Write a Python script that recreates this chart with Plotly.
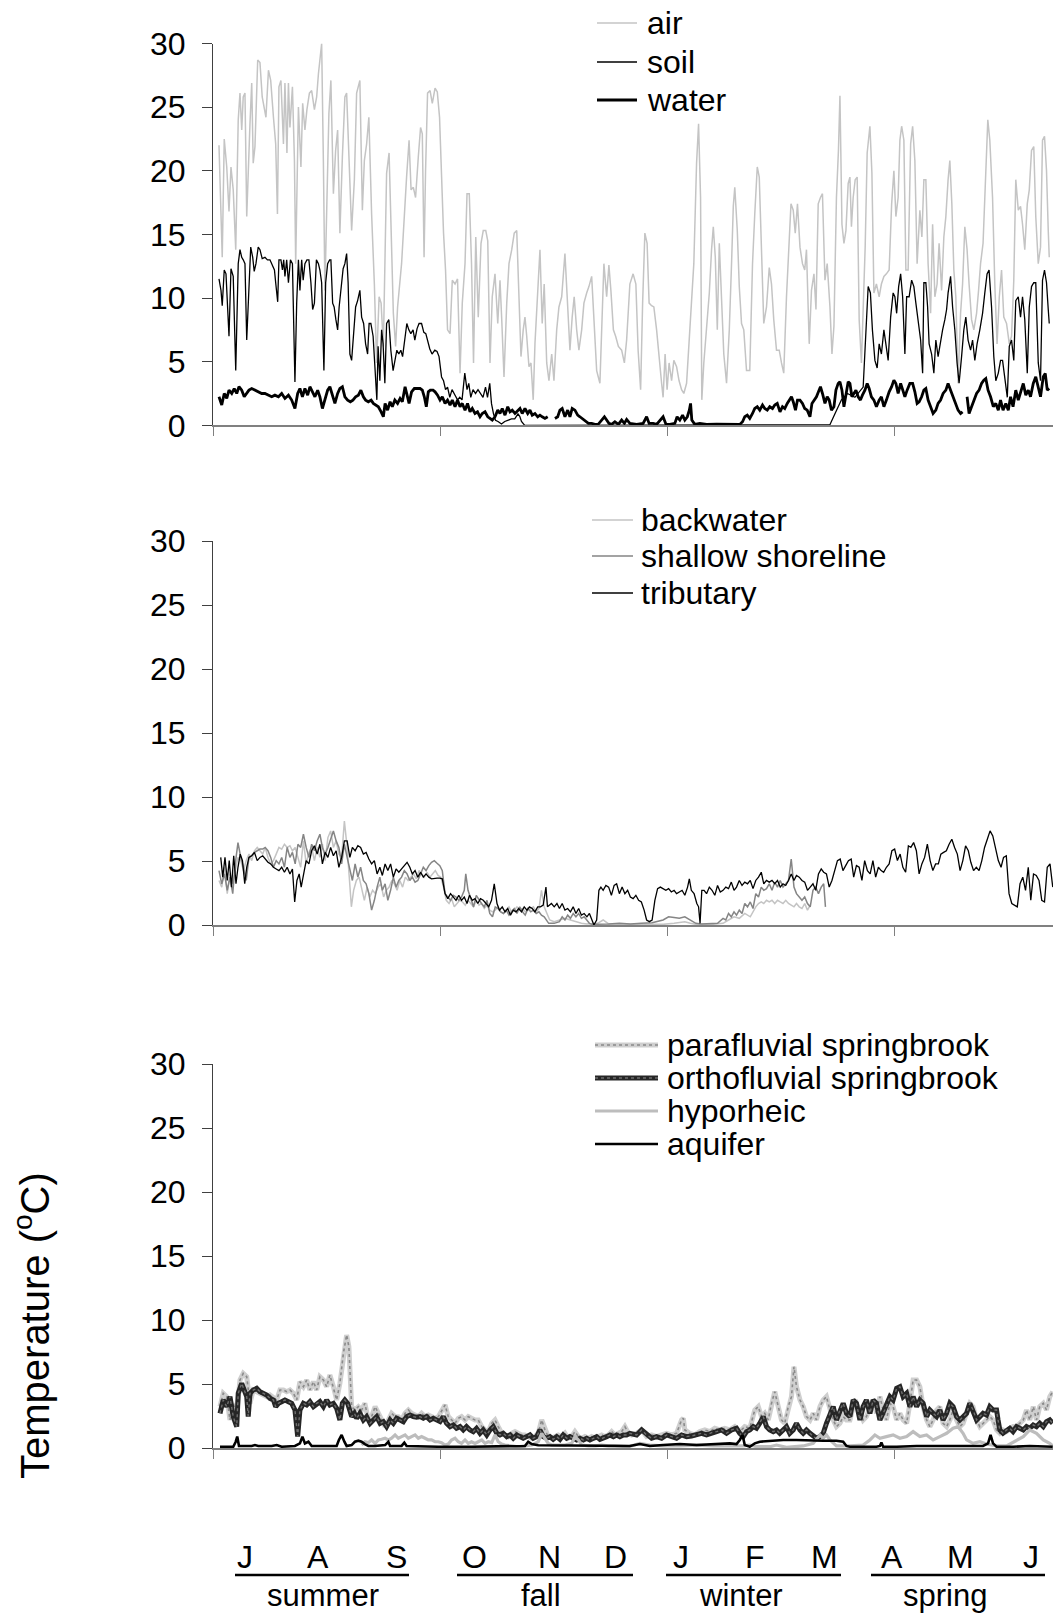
import plotly.graph_objects as go

W, H = 1059, 1615
FONT = "Liberation Sans, Arial, Helvetica, sans-serif"

# ---------------- data (day index from 1 July, temperature in deg C) ----------------
air_day = [2.4, 3.7, 4.5, 5.5, 6.4, 7.2, 8.1, 9.1, 10.1, 10.8, 11.5, 12.1, 12.8, 13.5, 14.8, 15.5, 16.1, 16.8,
           17.9, 18.8, 19.7, 20.5, 21.2, 22.2, 23.1, 24.2, 25.1, 25.8, 26.4, 27.2, 28.2, 28.8, 29.6, 30.2, 30.8,
           31.8, 32.6, 33.1, 34.2, 35.2, 35.9, 36.8, 37.6, 38.6, 39.5, 40.6, 41.5, 42.2, 42.8, 43.5, 44.2, 44.8,
           46.4, 47.2, 48.2, 49.1, 49.9, 50.8, 51.8, 52.8, 53.5, 54.4, 55.5, 56.6, 57.5, 58.8, 59.8, 60.6, 61.5,
           62.4, 63.5, 64.6, 65.5, 66.5, 67.3, 68.2, 69.5, 70.5, 71.3, 72.2, 73.1, 73.9, 75.5, 76.9, 77.5, 78.5,
           79.3, 80.2, 81.1, 82.2, 83.1, 83.8, 84.5, 85.1, 85.9, 86.9, 87.8, 88.9, 89.8, 90.7, 91.8, 92.3, 93.1,
           93.9, 94.9, 95.8, 96.9, 97.9, 98.9, 99.8, 100.9, 101.7, 102.6, 103.5, 104.3, 105.2, 106.2, 107.3,
           108.2, 109.2, 110.0, 110.9, 111.8, 112.9, 114.0, 114.9, 115.6, 116.5, 117.6, 118.5, 119.6, 120.6,
           121.6, 122.4, 123.3, 124.2, 124.9, 125.6, 126.5, 127.3, 128.2, 128.9, 130.0, 130.9, 131.8, 132.6,
           133.6, 134.5, 135.6, 136.5, 137.6, 138.5, 139.6, 140.9, 141.8, 142.9, 143.8, 144.6, 145.6, 146.5,
           147.6, 148.5, 149.6, 150.5, 151.6, 152.7, 153.6, 154.9, 155.6, 156.5, 157.6, 158.5, 159.3, 160.3,
           161.2, 162.3, 163.6, 164.7, 165.6,
           166.9, 168.2, 169.3, 170.2, 171.2, 172.0, 172.9, 173.8, 174.6, 175.6, 176.5, 177.6, 178.6, 179.6,
           180.2, 181.0, 181.8, 182.6, 183.6, 184.5, 185.6, 186.6, 187.6, 188.5, 189.6, 190.7, 191.6, 192.5,
           193.6, 194.4, 195.2, 195.7, 196.5, 197.6, 198.7, 199.6, 200.3, 201.1, 201.9, 202.7, 203.6, 204.5,
           205.6, 206.7, 207.6, 208.3, 208.9, 209.9, 210.7, 211.6, 212.5, 213.6, 214.9, 216.0, 216.9, 217.9,
           218.7, 219.6, 220.5, 221.6, 222.7, 223.6, 224.5, 225.6, 226.7, 227.6, 228.5, 229.6, 230.7, 231.4,
           232.3, 233.1, 234.0, 235.0, 236.0, 236.9, 237.6, 238.7, 239.6, 240.6, 241.4, 242.3, 243.2, 244.0,
           245.0, 245.9, 247.0, 247.8, 248.6, 249.6, 250.4, 251.0, 251.8, 252.6, 253.4, 254.3, 255.0, 255.6,
           256.3, 257.1, 257.9, 258.7, 259.6, 260.3, 261.1, 261.9, 263.0, 263.8, 264.6, 265.6, 266.7, 267.6,
           268.6, 269.6, 270.7, 271.7, 272.6, 273.4, 274.3, 275.0, 275.7, 276.6, 277.4, 278.3, 279.3, 280.1,
           281.0, 281.9, 283.0, 283.8, 284.6, 285.4, 286.3, 287.3, 288.1, 289.0, 289.9, 290.7, 291.7, 292.6,
           293.4, 294.3, 295.0, 295.8, 296.6, 297.4, 298.3, 299.3, 300.1, 301.0, 301.9, 302.7, 303.7, 304.6,
           305.7, 306.5, 307.3, 308.3, 309.4, 310.2, 311.0, 312.1, 313.0, 313.9, 314.8, 315.7, 316.6, 317.7,
           318.8, 319.7, 320.6, 321.4, 322.4, 323.3, 324.1, 325.0, 326.0, 326.8, 327.7, 328.6, 329.4, 330.4,
           331.3, 332.1, 332.9, 333.7, 334.4, 334.8]
air_val = [22.0, 13.2, 22.5, 20.3, 16.8, 20.3, 18.5, 13.8, 24.0, 26.1, 23.2, 25.8, 26.1, 16.4, 23.7, 26.9, 20.6, 21.9,
           28.7, 28.5, 25.8, 24.8, 24.2, 27.9, 27.1, 24.2, 22.1, 16.6, 26.6, 27.1, 22.1, 26.9, 21.4, 26.9, 23.4,
           26.6, 20.8, 12.7, 25.0, 20.3, 25.3, 23.2, 24.8, 26.1, 26.3, 24.8, 25.8, 27.6, 28.9, 30.0, 20.6, 10.6,
           24.5, 27.1, 18.2, 21.6, 23.2, 15.1, 21.1, 25.8, 26.1, 21.1, 15.3, 19.3, 26.1, 27.1, 16.9, 20.8, 22.1,
           24.2, 16.6, 11.1, 4.9, 10.1, 9.6, 6.2, 19.8, 21.4, 15.3, 8.8, 6.2, 9.3, 12.7, 17.9, 19.5, 22.4,
           18.5, 18.7, 17.9, 21.1, 23.4, 22.9, 13.2, 20.0, 26.1, 26.3, 25.3, 26.5, 26.2, 24.2, 17.9, 15.1, 12.2,
           7.5, 7.2, 11.4, 11.1, 11.5, 4.1, 9.6, 12.7, 18.2, 18.2, 12.7, 4.9, 14.8, 8.5, 14.3,
           15.3, 15.3, 14.5, 4.9, 10.1, 11.9, 8.0, 11.4, 8.3, 3.8, 9.6, 12.7, 13.8, 15.1,
           15.3, 11.1, 5.4, 7.5, 8.5, 7.0, 4.6, 4.9, 2.0, 6.4, 10.1, 13.8, 8.0, 11.1,
           4.9, 3.5, 5.6, 3.5, 7.5, 9.3, 10.1, 13.5, 10.1, 5.9, 8.5, 10.1, 7.5, 5.9,
           7.5, 9.6, 10.4, 10.9, 11.7, 7.5, 4.3, 3.3, 7.5, 12.7, 10.1, 12.6, 10.6, 7.5,
           7.0, 6.2, 5.9, 4.9, 6.7,
           11.1, 11.9, 11.1, 5.9, 2.8, 9.6, 15.1, 14.3, 9.6, 9.4, 9.3, 7.5, 5.1, 3.3,
           2.2, 5.6, 2.8, 4.9, 3.5, 5.1, 4.6, 3.5, 2.8, 2.5, 3.3, 7.0, 9.6, 12.7,
           20.6, 23.7, 17.9, 2.0, 4.9, 8.0, 10.4, 13.8, 15.6, 13.2, 7.5, 14.3, 9.6, 5.6,
           3.3, 7.5, 12.7, 17.2, 18.7, 15.3, 10.9, 8.0, 7.5, 4.3, 4.3, 12.7, 16.6, 20.3,
           19.5, 12.7, 8.0, 9.3, 12.4, 11.1, 8.3, 5.9, 5.9, 4.9, 4.1, 10.1, 14.8, 17.4,
           16.9, 15.1, 17.4, 14.0, 12.7, 12.2, 13.8, 6.4, 10.6, 11.9, 9.1, 17.4, 17.9, 18.2,
           11.4, 12.7, 9.3, 5.6, 7.8, 17.9, 21.6, 25.9, 15.8, 14.3, 15.3, 19.0, 19.5, 15.6,
           17.9, 19.3, 19.5, 8.3, 4.9, 9.3, 14.0, 21.4, 23.5, 19.8, 10.4, 11.1, 10.1, 11.1,
           11.7, 11.9, 12.2, 17.4, 20.0, 16.4, 17.9, 22.4, 23.5, 22.4, 12.2, 12.2, 22.1, 23.5,
           20.8, 12.7, 16.9, 14.8, 19.3, 19.3, 12.7, 8.8, 15.8, 10.1, 11.1, 14.3, 10.6, 14.8,
           16.4, 19.3, 20.8, 17.4, 12.2, 10.1, 3.3, 8.8, 11.1, 15.6, 13.8, 11.1, 8.3, 7.5,
           8.8, 10.6, 12.7, 14.3, 20.6, 24.0, 22.4, 17.9, 11.1, 6.4, 10.1, 12.2, 8.5, 8.0,
           6.4, 7.0, 11.4, 19.3, 16.9, 17.2, 15.8, 13.8, 17.4, 18.5, 21.6, 21.9, 16.4, 12.7,
           14.0, 22.4, 22.7, 20.0, 15.3, 13.2]

soil_day = [2.4, 3.2, 3.7, 4.5, 5.2, 5.9, 6.4, 7.2, 8.1, 9.1, 9.7, 10.1, 10.8, 11.5, 12.1, 12.8, 13.5, 14.1,
            15.1, 15.9, 16.5, 17.2, 18.1, 18.8, 19.7, 20.8, 21.8, 22.8, 23.8, 24.6, 25.1, 25.9, 26.4, 27.2,
            27.8, 28.3, 28.8, 29.5, 30.2, 31.0, 31.8, 32.3, 32.8, 33.5, 34.2, 34.8, 35.5, 36.1, 36.8, 37.6,
            38.4, 39.2, 39.9, 40.6, 41.4, 42.2, 42.8, 43.5, 44.4, 45.1, 45.9, 46.7, 47.2, 47.9, 48.5, 49.2,
            49.9, 50.5, 51.5, 52.1, 52.8, 53.5, 54.1, 54.8, 55.5, 56.1, 57.1, 57.9, 58.8, 59.5, 60.3, 61.1,
            61.9, 62.5, 63.2, 64.1, 64.8, 65.6, 66.1, 66.8, 67.5, 68.1, 68.8, 69.5, 70.4, 71.2, 72.1, 72.8,
            73.6, 74.4, 75.2, 75.9, 76.8, 77.6, 78.4, 79.2, 80.1, 80.8, 81.7, 82.5, 83.5, 84.4, 85.2, 85.9,
            86.8, 87.7, 88.8, 89.7, 90.5, 91.5, 92.3, 93.1, 93.9, 94.8, 95.7, 96.8, 97.9, 98.8, 99.7, 100.8,
            101.7, 102.4, 103.2, 104.1, 105.1, 106.1, 107.2, 108.1, 109.1, 109.9, 110.8, 111.5, 112.3, 113.1,
            114.1, 115.5, 116.8, 118.1, 119.5, 120.8, 122.1, 122.8, 123.5, 124.8, 128.8, 150.0, 200.0,
            247.0, 249.0, 251.6, 254.0, 257.0, 260.3,
            261.4, 262.3, 263.2, 264.0, 265.0, 265.9, 266.7, 267.6, 268.6, 269.4, 270.3, 271.3, 272.3, 273.0,
            273.7, 274.5, 275.3, 276.1, 277.0, 277.7, 278.7, 279.7, 280.6, 281.4, 282.3, 283.3, 284.1, 284.6,
            285.4, 286.1, 286.7, 287.7, 288.6, 289.4, 290.3, 291.3, 292.1, 293.0, 293.7, 294.3, 295.3, 296.1,
            297.0, 297.9, 298.7, 299.7, 300.6, 301.4, 302.3, 303.3, 304.1, 305.0, 305.9, 307.0, 308.1, 309.0,
            309.9, 310.7, 311.7, 312.6, 313.4, 314.4, 315.3, 316.1, 317.0, 318.0, 318.8, 319.7, 320.6, 321.4,
            322.4, 323.3, 324.1, 325.0, 326.0, 326.8, 327.7, 328.6, 329.4, 330.4, 331.3, 332.1, 332.9, 333.7,
            334.4, 334.8]
soil_val = [11.5, 10.6, 9.4, 12.2, 11.9, 8.5, 7.0, 12.3, 11.7, 4.3, 9.6, 12.7, 13.8, 13.2, 13.0, 12.7, 6.7, 9.6,
            14.0, 13.2, 12.1, 12.7, 14.0, 13.8, 13.1, 13.2, 13.0, 13.0, 12.5, 12.2, 11.2, 9.7, 13.0, 13.0,
            12.2, 13.0, 11.7, 13.0, 11.2, 13.0, 12.7, 8.3, 3.4, 9.6, 13.0, 10.6, 13.0, 11.4, 12.7, 13.0,
            13.0, 11.2, 9.1, 9.6, 13.0, 12.7, 12.2, 11.2, 4.3, 11.2, 12.7, 13.0, 13.0, 9.6, 9.3, 8.3,
            7.5, 9.3, 10.9, 12.3, 12.7, 13.5, 11.2, 5.6, 5.1, 7.0, 9.3, 9.8, 10.6, 8.5, 8.0, 6.4,
            5.6, 8.0, 8.0, 7.0, 4.3, 2.0, 6.2, 3.5, 7.5, 6.4, 3.3, 8.0, 8.3, 5.9, 4.3, 5.1,
            5.9, 5.6, 5.9, 5.4, 7.0, 8.0, 7.5, 7.2, 7.5, 6.7, 7.6, 8.0, 8.0, 7.3, 7.2, 6.7,
            6.0, 5.6, 5.9, 5.8, 5.4, 3.8, 3.5, 2.8, 3.0, 2.2, 2.8, 2.4, 2.0, 2.2, 2.0, 4.1,
            2.8, 3.3, 2.2, 2.8, 2.5, 2.8, 2.5, 2.2, 3.0, 2.2, 3.3, 1.7, 0.9, 0.4,
            0.3, 0.1, 0.3, 0.4, 0.5, 0.5, 0.9, 0.7, 0.3, 0.0, 0.0, 0.0, 0.0,
            0.05, 0.9, 2.0, 2.5, 2.2, 3.0,
            7.5, 10.9, 10.4, 7.5, 5.1, 4.5, 6.4, 5.6, 7.5, 6.4, 5.1, 8.5, 10.4, 10.1,
            8.8, 10.9, 11.9, 10.1, 5.6, 10.1, 10.1, 11.4, 10.9, 9.6, 8.0, 6.7, 4.1, 11.2,
            11.2, 9.3, 6.4, 5.6, 4.1, 6.7, 5.4, 6.7, 7.5, 8.3, 9.1, 10.4, 11.7, 9.3,
            7.5, 4.9, 3.3, 5.4, 7.5, 8.5, 6.7, 5.9, 6.7, 5.1, 6.4, 7.5, 8.8, 10.4,
            11.9, 12.2, 9.3, 5.4, 3.5, 4.1, 5.1, 5.1, 3.8, 2.2, 6.2, 6.7, 5.1, 9.8,
            10.1, 8.5, 10.1, 8.3, 4.1, 9.3, 10.9, 11.2, 11.2, 4.9, 3.5, 11.4, 12.2, 11.2,
            9.1, 8.0]

water_day = [2.4, 3.5, 4.5, 5.5, 6.4, 7.5, 8.5, 9.5, 10.4, 11.5, 12.5, 13.5, 14.4, 15.5, 16.8, 18.1, 19.5, 20.8,
             22.2, 23.5, 24.8, 26.2, 27.5, 28.8, 30.2, 31.5, 32.8, 33.9, 34.8, 35.8, 36.8, 37.9, 38.8, 39.8,
             40.8, 41.9, 42.8, 43.8, 44.8, 45.9, 46.8, 47.8, 48.8, 49.9, 50.8, 51.8, 52.8, 53.9, 55.0, 56.0,
             57.1, 58.2, 59.2, 60.2, 61.1, 62.2, 63.3, 64.2, 65.1, 66.2, 67.3, 68.2, 68.9, 69.9, 70.9, 71.8,
             72.8, 73.9, 74.9, 75.8, 76.9, 77.7, 78.5, 79.5, 80.6, 81.7, 82.9, 83.8, 84.6, 85.4, 86.2, 87.0,
             88.1, 88.9, 89.9, 90.9, 91.8, 92.9, 93.9, 94.9, 95.8, 96.9, 97.9, 98.9, 99.8, 100.9, 101.9, 102.9,
             103.8, 104.9, 105.9, 106.9, 107.8, 108.9, 110.0, 110.9, 111.8, 112.9, 114.0, 114.9, 115.8, 116.9,
             118.0, 118.9, 119.8, 120.9, 122.0, 122.9, 123.8, 124.9, 126.0, 126.9, 127.8, 128.9, 130.0, 130.9,
             131.8, 132.9, 134.0, 135.3, 136.9, 138.0, 138.9, 139.8, 140.9, 142.0, 142.9, 143.8, 144.9, 146.0,
             146.9, 147.8, 148.9, 150.3, 151.6, 152.9, 154.3, 155.6, 156.7, 157.6, 158.5, 159.6, 160.9, 162.3,
             163.6, 164.7, 165.6, 166.9, 169.6, 172.2, 173.6, 174.6, 176.2, 177.6, 179.2, 180.2, 181.3, 182.9,
             184.9, 185.8, 186.9, 188.0, 188.9, 189.9, 190.7, 191.2, 191.7, 192.9, 194.9, 197.6, 201.6, 206.9,
             210.9, 212.0, 212.9, 213.9, 214.9, 216.0, 216.9, 217.9, 218.9, 220.0, 220.9, 221.9, 222.9, 224.0,
             224.9, 225.9, 227.0, 228.0, 228.9, 229.9, 230.7, 231.6, 232.3, 233.2, 234.0, 235.0, 236.0, 236.9,
             237.9, 239.0, 239.8, 240.6, 241.6, 242.4, 243.2, 244.0, 245.0, 245.9, 246.7, 247.6, 248.6, 249.4,
             250.3, 251.0, 251.8, 252.6, 253.4, 254.3, 255.0, 255.8, 256.6, 257.4, 258.3, 259.2, 260.0, 261.0,
             261.9, 262.7, 263.6, 264.6, 265.6, 266.7, 267.6, 268.6, 269.6, 270.7, 271.7, 272.6, 273.4, 274.3,
             275.3, 276.1, 277.0, 277.9, 279.0, 280.1, 281.0, 281.9, 282.7, 283.7, 284.6, 285.4, 286.3, 287.3,
             288.3, 289.4, 290.3, 291.3, 292.3, 293.4, 294.3, 295.3, 296.3, 297.4, 298.3, 299.3, 300.1, 300.9,
             301.9, 302.7, 303.7, 304.6, 305.7, 306.7, 307.7, 308.6, 309.4, 310.3, 311.3, 312.4, 313.4, 314.4,
             315.3, 316.3, 317.4, 318.4, 319.3, 320.3, 321.4, 322.4, 323.3, 324.4, 325.4, 326.4, 327.3, 328.4,
             329.4, 330.4, 331.3, 332.4, 333.2, 334.0, 334.8]
water_val = [2.24, 1.59, 2.50, 2.11, 2.76, 2.50, 2.89, 2.50, 3.03, 2.76, 2.24, 2.50, 2.76, 2.89, 2.76, 2.63, 2.50, 2.50,
             2.37, 2.24, 2.37, 2.24, 2.50, 2.11, 2.37, 1.98, 1.32, 2.50, 2.89, 2.24, 2.89, 2.37, 3.03, 2.63,
             2.24, 2.76, 2.24, 1.32, 1.98, 2.76, 3.03, 2.37, 1.72, 2.50, 2.89, 3.03, 2.24, 1.98, 1.85, 1.98,
             2.24, 2.37, 2.76, 2.24, 1.98, 1.85, 1.98, 1.72, 1.59, 1.46, 1.06, 0.67, 1.72, 1.19, 1.85, 1.46,
             1.98, 1.72, 2.11, 1.85, 3.03, 2.24, 1.72, 2.63, 2.89, 2.89, 2.89, 2.76, 2.24, 1.46, 2.63, 2.76,
             2.76, 2.63, 2.37, 1.98, 2.24, 1.72, 1.98, 1.59, 1.98, 1.46, 1.98, 1.46, 1.72, 1.19, 1.72, 1.06,
             1.32, 0.93, 1.06, 0.67, 0.93, 1.06, 0.67, 0.54, 0.41, 0.67, 1.19, 0.93, 1.32, 0.80,
             1.46, 1.06, 1.19, 0.93, 1.19, 1.32, 0.93, 1.32, 0.93, 1.19, 0.80, 0.93, 0.67, 0.80,
             0.67, 0.54, 0.67, None, 0.54, 0.67, 1.19, 1.32, 0.67, 1.19, 0.67, 1.32, 1.19, 0.80,
             0.67, 0.54, 0.41, 0.15, 0.15, 0.07, 0.10, 0.41, 0.67, 0.41, 0.15, 0.07, 0.28, 0.07,
             0.41, 0.15, 0.46, 0.15, 0.07, 0.15, 0.67, 0.15, 0.15, 0.07, 0.41, 0.67, 0.10, 0.07,
             0.15, 0.67, 0.41, 0.80, 0.41, 0.67, 1.19, 1.72, 0.41, 0.07, 0.15, 0.07, 0.10, 0.07,
             0.07, 0.28, 0.67, 0.80, 0.54, 0.93, 1.32, 1.46, 1.19, 1.59, 1.32, 1.19, 1.46, 1.32,
             1.59, 1.72, 1.06, 1.46, 1.32, 1.72, 1.98, 2.24, 1.85, 1.19, 1.98, 1.98, 1.72, 1.32,
             1.19, 0.67, 1.72, 1.98, 2.24, 2.63, 3.03, 2.50, 1.72, 2.24, 1.98, 1.19, 1.46, 2.76,
             3.29, 3.42, 2.76, 1.46, 2.24, 3.42, 3.29, 2.24, 2.50, 2.76, 2.24, 1.98, 2.37, 2.76,
             3.29, 2.89, 2.24, 1.98, 1.46, 1.98, 2.24, 1.46, 1.98, 2.63, 3.03, 3.55, 3.29, 2.50,
             3.29, 2.76, 2.24, 2.76, 3.29, 3.29, 2.63, 1.72, 1.85, 2.24, 2.76, 2.89, 1.98, 1.46,
             0.93, 1.19, 1.72, 1.98, 2.50, 2.76, 3.29, 2.76, 2.24, 1.72, 1.19, 0.93, 1.06, None,
             2.24, 0.93, 1.46, 1.98, 2.50, 2.76, 3.29, 3.55, 3.68, 2.76, 2.24, 1.46, 1.72, 1.19,
             1.98, 1.19, 1.72, 1.19, 2.24, 1.46, 2.76, 1.98, 2.50, 3.29, 2.37, 2.76, 2.24, 3.29,
             3.81, 3.03, 2.24, 3.81, 4.07, 2.76, 2.89]

back_day = [2.4, 3.5, 4.6, 5.7, 6.8, 7.9, 8.9, 10.0, 11.1, 12.2, 13.3, 14.4, 15.5, 16.6, 17.7, 18.8, 19.9, 20.9,
            22.0, 23.1, 24.2, 25.3, 26.4, 27.5, 28.6, 29.7, 30.8, 31.8, 32.9, 34.0, 35.1, 36.2, 37.3, 38.4,
            39.5, 40.6, 41.7, 42.8, 43.8, 44.9, 46.0, 47.1, 48.2, 49.3, 50.4, 51.5, 52.6, 53.7, 54.8, 55.4,
            56.3, 57.4, 58.5, 59.6, 60.6, 61.7, 62.8, 63.9, 65.0, 66.1, 67.2, 68.3, 69.4, 70.5, 71.6, 72.6,
            73.7, 74.8, 75.9, 77.0, 78.1, 79.2, 80.3, 81.4, 82.5, 83.6, 84.6, 85.7, 86.8, 87.9, 89.0, 90.1,
            91.2, 92.3, 93.4, 94.5, 95.5, 96.6, 97.7, 98.8, 99.9, 101.0, 102.1, 103.2, 104.3, 105.4, 106.5,
            107.5, 108.6, 109.7, 110.8, 111.9, 113.0, 114.1, 115.2, 116.3, 117.4, 118.5, 119.5, 120.6, 121.7,
            122.8, 123.9, 125.0, 126.1, 127.2, 128.3, 129.4, 130.5, 131.5, 132.6, 133.7, 134.8, 136.6, 138.7,
            140.9, 143.1, 145.3, 147.5, 149.7, 154.0, 156.2, 157.3, 158.4, 162.7, 171.5, 180.2, 184.6, 188.9,
            191.1, 193.3, 199.8, 204.2, 206.4, 208.6, 210.7, 212.9, 215.1, 216.2, 217.3, 218.4, 219.5, 220.5,
            221.6, 222.7, 223.8, 224.9, 226.0, 227.1, 228.2, 229.3, 230.4, 231.5, 232.6, 233.6, 234.7, 235.8,
            236.9, 238.0, 239.1]
back_val = [3.48, 2.96, 4.51, 2.45, 3.99, 3.22, 4.25, 5.28, 5.03, 4.25, 5.03, 5.54, 5.03, 5.80, 6.06, 5.80, 5.54, 6.06,
            5.28, 4.77, 5.03, 5.54, 6.06, 5.93, 6.31, 6.06, 6.19, 5.80, 6.06, 5.28, 4.51, 6.57, 4.77, 5.67,
            6.06, 5.03, 6.06, 5.28, 6.31, 5.03, 6.83, 7.35, 6.06, 6.57, 5.54, 5.28, 8.12, 6.06, 2.71, 1.42,
            2.71, 3.48, 3.74, 2.71, 1.93, 2.96, 2.19, 2.71, 2.45, 2.96, 3.22, 2.19, 2.71, 2.96, 3.48, 3.22,
            2.71, 3.48, 2.96, 3.74, 3.48, 3.74, 3.99, 3.61, 4.25, 3.99, 3.74, 4.12, 3.74, 3.99, 4.25, 3.87,
            3.74, 2.96, 1.93, 1.68, 2.06, 1.42, 1.68, 1.93, 1.80, 1.55, 1.93, 1.68, 1.42, 1.93, 1.55,
            1.68, 1.29, 1.55, 1.16, 1.03, 1.16, 1.42, 1.03, 0.90, 1.16, 1.42, 1.03, 1.16, 1.42,
            1.16, 1.29, 1.03, 1.16, 1.29, 1.42, 1.03, 1.29, 2.71, 1.42, 0.90, 0.39, 0.26, 0.39,
            0.52, 0.39, 0.26, 0.13, 0.08, 0.13, 0.39, 0.26, 0.08, 0.05, 0.05, 0.05, 0.13, 0.26,
            0.13, 0.05, 0.05, 0.13, 0.39, 0.64, 0.52, 0.90, 0.64, 1.03, 1.42, 1.68, 1.80, 1.68,
            1.93, 1.80, 1.93, 1.68, 1.93, 1.80, 1.68, 1.93, 1.68, 1.55, 1.42, 1.68, 1.42, 1.29,
            1.68, 1.16, 1.55]

shallow_day = [2.4, 3.5, 4.6, 5.7, 6.8, 7.9, 8.9, 10.0, 11.1, 12.2, 13.3, 14.4, 15.5, 16.6, 17.7, 18.8, 19.9, 20.9,
               22.0, 23.1, 24.2, 25.3, 26.4, 27.5, 28.6, 29.7, 30.8, 31.8, 32.9, 34.0, 35.1, 36.2, 37.3, 38.4,
               39.5, 40.6, 41.7, 42.8, 43.8, 44.9, 46.0, 47.1, 48.2, 49.3, 50.4, 51.5, 52.6, 53.7, 54.8, 55.8,
               56.9, 58.0, 59.1, 60.2, 61.3, 62.4, 63.5, 64.6, 65.7, 66.8, 67.8, 68.9, 70.0, 71.1, 72.2, 73.3,
               74.4, 75.5, 76.6, 77.7, 78.8, 79.8, 80.9, 82.0, 83.1, 84.2, 85.3, 86.4, 87.5, 88.6, 89.7, 90.8,
               91.8, 92.9, 94.0, 95.1, 96.2, 97.3, 98.4, 99.5, 100.6, 101.2, 102.1, 103.2, 104.3, 105.4, 106.5,
               107.5, 108.6, 109.7, 110.8, 111.9, 113.0, 114.1, 115.2, 116.3, 117.4, 118.5, 119.5, 120.6, 121.7,
               122.8, 123.9, 125.0, 126.1, 127.2, 128.3, 129.4, 130.5, 131.5, 132.6, 133.7, 134.4, 136.6, 138.7,
               139.8, 140.9, 142.0, 143.1, 144.2, 145.3, 146.4, 147.5, 148.6, 149.7, 150.7, 151.8, 154.0, 156.2,
               158.4, 162.7, 167.1, 171.5, 175.8, 180.2, 182.4, 184.6, 186.7, 188.9, 191.1, 193.3, 195.5, 199.8,
               202.0, 204.2, 205.3, 206.4, 207.5, 208.6, 209.6, 210.7, 211.8, 212.9, 214.0, 215.1, 216.2, 217.3,
               218.4, 219.5, 220.5, 221.6, 222.7, 223.8, 224.9, 226.0, 227.1, 228.2, 229.3, 230.4, 231.5, 232.6,
               233.6, 234.7, 235.8, 236.9, 238.0, 239.1, 240.2, 241.3, 242.4, 243.5, 244.5, 245.2]
shallow_val = [4.25, 3.22, 3.99, 2.71, 3.74, 2.45, 4.77, 6.44, 5.28, 4.51, 3.48, 5.28, 5.41, 5.67, 5.80, 5.93, 5.93, 6.06,
               5.80, 5.28, 4.51, 5.03, 4.77, 5.28, 4.51, 6.06, 5.28, 5.67, 4.77, 6.31, 6.06, 7.09, 6.06, 5.28,
               6.31, 5.80, 6.57, 7.09, 6.06, 5.54, 6.06, 6.70, 7.35, 6.57, 6.06, 4.77, 6.31, 5.28, 4.25, 3.48,
               4.77, 3.74, 4.51, 3.48, 3.22, 2.45, 1.16, 1.93, 2.96, 3.74, 2.71, 3.22, 1.93, 2.71, 3.74, 2.96,
               3.48, 3.74, 4.25, 3.99, 3.48, 3.74, 3.35, 3.48, 3.99, 4.51, 4.25, 4.64, 4.90, 5.03, 4.82, 4.64,
               4.25, 2.45, 2.19, 1.93, 2.32, 2.19, 1.93, 2.19, 2.71, 3.99, 2.71, 2.06, 1.42, 2.32, 1.93,
               1.68, 1.42, 1.93, 0.90, 0.64, 1.42, 1.29, 1.03, 0.90, 1.16, 0.77, 1.03, 1.29, 0.90,
               1.42, 1.03, 0.77, 1.29, 1.03, 1.16, 0.90, 1.03, 0.77, 0.64, 0.26, 0.13, 0.13, 0.26,
               0.64, 0.39, 0.77, 0.52, 0.90, 0.64, 0.90, 0.52, 0.64, 0.39, 0.13, 0.05, 0.05, 0.10,
               0.08, 0.13, 0.08, 0.13, 0.18, 0.39, 0.64, 0.59, 0.52, 0.64, 0.39, 0.13, 0.08, 0.10,
               0.13, 0.52, 0.39, 0.90, 0.64, 1.03, 0.77, 1.16, 0.90, 1.68, 1.42, 1.80, 1.29, 2.45,
               2.19, 2.96, 2.71, 2.84, 3.22, 2.71, 3.35, 2.96, 3.48, 2.96, 3.22, 3.48, 5.15, 2.96,
               2.45, 2.19, 1.93, 2.19, 1.68, 1.42, 2.71, 2.96, 2.45, 2.96, 3.22, 1.42]

trib_day = [3.1, 3.9, 4.8, 5.7, 6.5, 7.4, 8.3, 9.2, 10.0, 10.9, 11.8, 12.7, 13.5, 14.4, 15.5, 16.6, 17.7, 18.8, 19.9,
            20.9, 22.0, 23.1, 24.2, 25.3, 26.4, 27.5, 28.6, 29.7, 30.8, 31.8, 32.7, 33.6, 34.5, 35.3, 36.2, 37.3,
            38.4, 39.5, 40.6, 41.7, 42.8, 43.8, 44.9, 46.0, 47.1, 48.2, 49.3, 50.4, 51.5, 52.6, 53.7, 54.8, 55.8,
            56.9, 58.0, 59.1, 60.2, 61.3, 62.4, 63.5, 64.6, 65.7, 66.8, 67.8, 68.9, 70.0, 71.1, 72.2, 73.3, 74.4,
            75.5, 76.6, 77.7, 78.8, 79.8, 80.9, 82.0, 83.1, 84.2, 85.3, 86.4, 87.5, 88.6, 89.7, 90.8, 91.8, 92.9,
            94.0, 95.1, 96.2, 97.3, 98.4, 99.5, 100.6, 101.7, 102.7, 103.8, 104.9, 106.0, 107.1, 108.2, 109.3,
            110.4, 111.5, 112.6, 113.7, 114.7, 115.8, 116.9, 118.0, 119.1, 120.2, 121.3, 122.4, 123.5, 124.6,
            125.7, 126.7, 127.8, 128.9, 130.0, 131.1, 132.2, 133.3, 133.9, 135.5, 136.6, 137.7, 138.7, 139.8,
            140.9, 142.0, 143.1, 144.2, 145.3, 146.4, 147.5, 148.6, 149.7, 150.7, 151.8, 152.5, 153.6, 154.5,
            155.3, 156.2, 157.3, 158.4, 159.5, 160.6, 161.6, 162.7, 163.8, 164.9, 166.0, 167.1, 168.2, 169.3,
            170.4, 171.5, 172.6, 173.6, 174.7, 175.8, 176.9, 178.0, 179.1, 180.2, 181.3, 182.4, 183.5, 184.6,
            185.6, 186.7, 187.8, 188.9, 190.0, 190.7, 191.5, 192.6, 193.7, 194.4, 195.0, 195.7, 196.6, 197.6,
            198.7, 199.8, 200.9, 202.0, 203.1, 204.2, 205.3, 206.4, 207.5, 208.6, 209.6, 210.7, 211.8, 212.9,
            214.0, 215.1, 216.2, 217.3, 218.4, 219.5, 220.5, 221.6, 222.7, 223.8, 224.9, 226.0, 227.1, 228.2,
            229.3, 230.4, 231.5, 232.6, 233.6, 234.7, 235.8, 236.9, 238.0, 239.1, 240.2, 241.3, 242.4, 243.5,
            244.5, 245.6, 246.7, 247.8, 248.9, 250.0, 251.1, 252.2, 253.3, 254.4, 255.5, 256.5, 257.6, 258.7,
            259.8, 260.9, 262.0, 263.1, 264.2, 265.3, 266.4, 267.5, 268.5, 269.6, 270.7, 271.8, 272.9, 274.0,
            275.1, 276.2, 277.3, 278.4, 279.4, 280.5, 281.6, 282.7, 283.8, 284.9, 286.0, 287.1, 288.2, 289.3,
            290.4, 291.4, 292.5, 293.6, 294.7, 295.8, 296.9, 298.0, 299.1, 300.2, 301.3, 302.4, 303.4, 304.5,
            305.6, 306.7, 307.8, 308.9, 310.0, 311.1, 312.2, 313.3, 314.4, 315.5, 316.5, 317.6, 318.7, 319.8,
            320.9, 322.0, 323.1, 324.2, 325.3, 326.4, 327.4, 328.5, 329.6, 330.7, 331.8, 332.9, 334.0, 335.1,
            336.2]
trib_val = [5.28, 3.74, 5.28, 3.48, 5.03, 2.96, 5.41, 3.22, 4.51, 5.54, 5.03, 3.22, 4.51, 5.28, 5.41, 5.67, 5.03, 5.28, 5.41,
            5.15, 4.90, 4.77, 4.51, 4.38, 4.25, 4.51, 4.12, 4.51, 3.99, 4.38, 1.80, 3.48, 3.99, 2.96, 3.99, 5.03,
            4.77, 5.80, 6.19, 5.54, 6.31, 4.77, 5.67, 5.28, 6.06, 5.41, 5.80, 4.51, 5.28, 6.57, 6.57, 5.28, 6.06,
            5.80, 6.19, 6.06, 5.54, 5.67, 5.15, 4.77, 5.03, 3.99, 4.51, 3.87, 4.77, 4.25, 4.77, 3.74, 4.38, 4.12,
            4.38, 4.64, 4.90, 4.51, 3.99, 4.25, 3.74, 4.12, 3.74, 3.99, 3.74, 3.61, 3.66, 3.66, 3.66, 3.61, 2.45,
            2.06, 2.45, 2.19, 1.93, 2.32, 1.93, 2.19, 1.68, 2.32, 1.93, 2.06, 1.68, 2.06, 1.93, 1.68,
            1.42, 1.93, 3.22, 1.68, 1.16, 1.42, 1.03, 1.29, 0.77, 1.16, 1.03, 1.29, 1.03, 1.42,
            1.16, 1.42, 1.29, 1.03, 1.42, 1.42, 1.55, 2.96, 1.42, 1.68, 1.42, 1.68, 1.29, 1.68,
            1.16, 1.29, 1.03, 1.42, 0.90, 1.29, 0.77, 0.90, 0.64, 0.90, 0.26, 0.0, 0.39, 2.71,
            2.96, 2.71, 3.09, 2.96, 2.32, 3.09, 3.22, 2.45, 2.96, 2.45, 2.71, 2.19, 2.06, 2.32,
            1.93, 1.80, 1.16, 0.39, 0.26, 0.39, 1.93, 2.84, 2.96, 2.84, 2.71, 2.84, 2.58, 2.71,
            2.45, 2.58, 2.71, 2.32, 2.96, 3.61, 2.71, 2.45, 1.68, 1.42, 0.13, 2.71, 2.71, 2.45,
            2.96, 2.71, 2.32, 3.09, 2.58, 2.71, 2.96, 2.84, 3.35, 2.71, 2.96, 3.48, 3.09, 3.35,
            3.22, 3.48, 2.84, 3.48, 3.74, 4.12, 3.22, 3.48, 3.35, 3.48, 3.22, 3.48, 2.96, 3.22,
            3.09, 3.48, 3.99, 3.48, 3.87, 3.74, 3.48, 3.35, 2.71, 2.96, 3.22, 2.71, 3.99, 4.38,
            4.12, 3.99, 2.96, 3.48, 4.25, 5.03, 5.15, 4.25, 4.64, 5.03, 5.15, 3.74, 4.64, 4.51,
            3.48, 5.03, 4.25, 3.99, 5.03, 3.74, 4.51, 4.25, 4.12, 4.51, 4.77, 5.80, 5.93, 5.03,
            5.54, 4.51, 4.12, 6.19, 6.06, 6.44, 5.80, 3.99, 4.77, 5.28, 6.31, 5.03, 4.25, 4.77,
            4.77, 5.54, 5.67, 5.80, 6.31, 6.70, 6.06, 5.54, 4.25, 5.03, 6.19, 5.80, 4.90, 4.25,
            4.51, 4.25, 5.03, 6.06, 6.70, 7.35, 6.96, 6.06, 5.03, 4.51, 5.28, 5.41, 2.45, 1.68,
            1.55, 1.42, 3.22, 3.74, 2.71, 4.51, 1.93, 3.99, 3.87, 3.48, 1.93, 1.80, 4.51, 4.77,
            2.96]

para_day = [2.8, 4.1, 5.5, 6.8, 8.1, 9.5, 10.8, 12.1, 13.5, 14.8, 16.1, 17.5, 18.8, 20.1, 21.5, 22.8, 24.2, 25.5,
            26.8, 28.2, 29.5, 30.8, 32.2, 33.5, 34.8, 36.2, 37.5, 38.8, 40.2, 41.5, 42.8, 44.2, 45.5, 46.8, 48.2,
            49.5, 50.8, 52.2, 53.5, 54.4, 55.5, 56.8, 58.2, 59.5, 60.8, 62.2, 63.5, 64.9, 66.2, 67.5, 68.9, 70.2,
            71.5, 72.9, 74.2, 75.5, 76.9, 78.2, 79.5, 80.9, 82.2, 83.5, 84.9, 86.2, 87.5, 88.9, 90.2, 91.5, 92.9,
            94.2, 95.5, 96.9, 98.2, 99.5, 100.9, 102.2, 103.5, 104.9, 106.2, 107.6, 108.9, 110.2, 111.6, 112.9,
            114.2, 115.6, 116.9, 118.2, 119.6, 120.9, 122.2, 123.6, 124.9, 126.2, 127.6, 128.9, 130.2, 131.6,
            132.9, 134.2, 135.6, 136.9, 138.2, 139.6, 140.9, 142.2, 143.6, 144.9, 146.3, 147.6, 148.9, 150.3,
            151.6, 152.9, 154.3, 155.6, 156.9, 158.3, 159.6, 160.9, 162.3, 163.6, 164.9, 166.3, 167.6,
            169.6, 171.6, 173.6, 175.6, 177.6, 179.6, 181.6, 183.6, 185.6, 187.6, 188.3, 188.9, 190.9, 192.9,
            194.9, 196.9, 198.9, 200.9, 202.9, 204.9, 206.9, 208.9, 210.9, 212.9, 214.9, 216.9, 218.3, 219.6,
            220.9, 222.3, 223.6, 224.9, 226.3, 227.6, 228.9, 230.3, 231.6, 232.6, 233.6, 235.0, 236.3, 237.6,
            239.0, 240.3, 241.6, 243.0, 244.3, 245.6, 247.0, 248.3, 249.6, 251.0, 252.3, 253.6, 255.0, 256.3,
            257.6, 259.0, 260.3, 261.6, 263.0, 264.3, 265.6, 267.0, 268.3, 269.6, 271.0, 272.3, 273.7, 275.0,
            276.3, 277.7, 279.0, 280.3, 281.7, 283.0, 284.3, 285.7, 287.0, 288.3, 289.7, 291.0, 292.3, 293.7,
            295.0, 296.3, 297.7, 299.0, 300.3, 301.7, 303.0, 304.3, 305.7, 307.0, 308.3, 309.7, 311.0, 312.3,
            313.7, 315.0, 316.3, 317.7, 319.0, 320.3, 321.7, 323.0, 324.4, 325.7, 327.0, 328.4, 329.7, 331.0,
            332.4, 333.7, 335.0, 336.2]
para_val = [3.23, 4.27, 4.01, 2.19, 3.49, 2.71, 5.31, 5.83, 5.57, 3.49, 4.53, 4.40, 4.27, 4.14, 4.01, 4.14, 3.88, 3.75,
            4.53, 4.53, 4.40, 4.53, 4.27, 3.75, 5.18, 4.79, 5.31, 4.53, 5.18, 4.53, 5.57, 5.31, 4.79, 5.70, 4.79,
            3.75, 5.05, 7.40, 8.83, 7.92, 3.23, 2.97, 3.23, 2.97, 3.49, 2.19, 2.45, 3.23, 2.71, 2.19, 1.67, 2.19,
            2.71, 2.45, 2.45, 2.19, 2.71, 2.97, 2.71, 2.58, 2.45, 2.71, 2.45, 2.58, 2.45, 2.32, 2.45, 2.84, 3.36,
            2.45, 2.19, 1.93, 2.32, 2.45, 2.19, 2.45, 2.32, 2.19, 2.19, 1.67, 1.41, 1.28, 1.93, 2.19,
            1.67, 1.15, 1.02, 0.89, 1.15, 1.28, 1.15, 1.02, 1.02, 0.89, 0.76, 0.89, 1.15, 2.19,
            1.41, 0.89, 0.76, 0.89, 1.02, 0.89, 1.15, 0.76, 0.89, 1.28, 0.89, 0.76, 0.89, 0.76,
            0.89, 0.76, 0.89, 1.02, 0.89, 1.02, 1.28, 1.02, 1.15, 1.28, 1.67, 1.15, 1.02,
            1.15, 1.41, 0.89, 1.02, 0.89, 1.02, 1.15, 1.02, 1.15, 2.19, 2.32, 1.41, 1.15, 1.02,
            1.28, 1.41, 1.28, 1.54, 1.41, 1.54, 1.41, 1.67, 1.28, 1.67, 1.54, 2.97, 3.23, 2.45,
            2.71, 2.19, 3.49, 4.40, 3.23, 2.19, 1.93, 3.23, 4.01, 6.35, 4.79, 3.75, 3.23, 2.45,
            2.19, 2.71, 2.19, 3.23, 3.75, 4.01, 2.97, 2.19, 1.67, 1.93, 2.45, 2.19, 2.19, 3.23,
            3.49, 2.71, 2.19, 2.45, 3.23, 3.75, 2.71, 4.01, 2.97, 2.19, 3.49, 3.23, 2.19, 2.71,
            2.19, 1.93, 3.49, 5.31, 5.31, 4.79, 3.23, 2.19, 1.67, 2.19, 2.97, 3.23, 1.93, 1.67,
            2.19, 2.97, 2.19, 1.67, 1.93, 2.71, 3.49, 3.23, 2.19, 1.67, 1.93, 2.19, 2.45, 2.19,
            1.41, 1.15, 1.41, 1.28, 1.54, 1.67, 1.67, 1.93, 2.19, 2.97, 2.19, 3.23, 2.19, 3.23,
            3.49, 2.97, 4.01, 4.40]

ortho_day = [2.8, 4.1, 5.5, 6.8, 8.1, 9.5, 10.1, 11.5, 12.5, 13.5, 14.1, 14.8, 16.1, 17.5, 18.8, 20.1, 21.5, 22.8,
             24.2, 25.1, 26.2, 27.5, 28.8, 30.2, 31.5, 32.8, 33.9, 34.8, 36.2, 37.5, 38.8, 40.2, 41.5, 42.8, 44.2,
             45.5, 46.8, 48.2, 49.5, 50.8, 51.8, 52.8, 53.9, 54.8, 55.5, 56.6, 57.5, 58.8, 60.2, 61.5, 62.9, 64.2,
             65.5, 66.9, 68.2, 69.5, 70.9, 72.2, 73.5, 74.9, 76.2, 77.5, 78.9, 80.2, 81.5, 82.9, 84.2, 85.5, 86.9,
             88.2, 89.5, 90.9, 92.2, 93.5, 94.9, 96.2, 97.5, 98.9, 100.2, 101.5, 102.9, 104.2, 105.5, 106.9, 108.2,
             109.6, 110.9, 112.2, 113.6, 114.9, 116.2, 117.6, 118.9, 120.2, 121.6, 122.9, 124.2, 125.6, 126.9,
             128.2, 129.6, 130.9, 132.2, 133.6, 134.9, 136.2, 137.6, 138.9, 140.2, 141.6, 142.9, 144.2, 145.6,
             146.9, 148.3, 149.6, 150.9, 152.3, 153.6, 154.9, 156.3, 157.6, 158.9, 160.3, 161.6, 162.9, 164.3,
             165.6, 166.9, 169.6, 171.6, 173.6, 175.6, 177.6, 179.6, 181.6, 183.6, 185.6, 187.6, 189.6, 191.6,
             193.6, 195.6, 197.6, 199.6, 201.6, 203.6, 205.6, 207.6, 209.6, 210.9, 212.3, 213.6, 214.9, 216.3,
             217.6, 218.9, 220.3, 221.6, 222.9, 224.3, 225.6, 226.9, 228.3, 229.6, 230.9, 232.3, 233.6, 235.0,
             236.3, 237.6, 239.0, 240.3, 241.6, 243.0, 244.3, 245.6, 247.0, 248.3, 249.6, 251.0, 252.3, 253.6,
             255.0, 256.3, 257.6, 259.0, 260.3, 261.6, 263.0, 264.3, 265.6, 267.0, 268.3, 269.6, 271.0, 272.3,
             273.7, 275.0, 276.3, 277.7, 279.0, 280.3, 281.7, 283.0, 284.3, 285.7, 287.0, 288.3, 289.7, 291.0,
             292.3, 293.7, 295.0, 296.3, 297.7, 299.0, 300.3, 301.7, 303.0, 304.3, 305.7, 307.0, 308.3, 309.7,
             311.0, 312.3, 313.7, 314.3, 315.0, 316.3, 317.7, 319.0, 320.3, 321.7, 323.0, 324.4, 325.7, 327.0,
             328.4, 329.7, 331.0, 332.4, 333.7, 335.0, 336.2]
ortho_val = [2.71, 3.75, 3.23, 4.01, 2.45, 1.67, 4.27, 5.05, 4.53, 4.01, 2.45, 4.27, 4.53, 4.66, 4.40, 4.27, 4.14, 3.88,
             3.75, 3.23, 3.49, 3.62, 3.75, 3.62, 3.49, 2.97, 0.89, 2.97, 3.49, 3.36, 3.62, 3.23, 3.49, 3.62, 3.23,
             3.75, 3.36, 3.49, 3.10, 2.19, 3.49, 3.75, 3.49, 2.97, 2.45, 2.71, 2.32, 2.71, 2.19, 2.45, 1.93, 2.19,
             2.45, 1.93, 2.06, 1.67, 2.19, 1.93, 2.32, 2.19, 2.06, 2.45, 2.58, 2.45, 2.40, 2.45, 2.32, 2.45, 2.19,
             2.32, 2.19, 2.06, 2.45, 1.93, 1.67, 1.80, 1.54, 1.67, 1.41, 1.67, 1.41, 1.28, 1.54, 1.15, 1.41,
             1.02, 1.41, 1.67, 1.15, 1.02, 1.15, 0.89, 1.02, 0.76, 1.02, 0.89, 0.76, 0.89, 1.02,
             0.76, 0.89, 1.41, 0.89, 0.76, 0.89, 0.68, 0.89, 0.68, 1.02, 0.76, 0.89, 0.76, 0.63,
             0.76, 0.63, 0.76, 0.63, 0.76, 0.89, 0.68, 0.76, 0.89, 1.02, 0.89, 1.02, 0.89, 1.02,
             1.02, 1.15, 1.02, 1.41, 1.02, 0.76, 0.89, 0.76, 1.02, 0.89, 0.76, 1.02, 0.89, 0.94,
             1.02, 1.15, 1.02, 1.20, 1.28, 1.41, 1.15, 1.41, 1.54, 1.15, 0.89, 1.28, 1.41, 1.67,
             1.54, 1.93, 2.45, 1.67, 1.41, 1.28, 1.41, 1.15, 1.41, 1.67, 1.15, 1.41, 1.93, 1.41,
             1.15, 1.41, 1.15, 0.89, 0.76, 0.89, 1.15, 1.93, 2.71, 3.23, 2.19, 2.97, 3.49, 2.71,
             2.45, 3.75, 3.49, 2.19, 3.23, 3.75, 2.71, 3.75, 3.49, 2.19, 2.71, 3.23, 4.01, 3.75,
             4.66, 4.79, 4.01, 4.27, 3.23, 4.01, 3.23, 3.75, 3.49, 2.45, 2.97, 2.71, 2.45, 2.97,
             2.19, 2.71, 3.49, 3.23, 2.45, 2.19, 2.45, 2.71, 3.49, 2.97, 2.19, 2.45, 2.71, 2.58,
             3.23, 2.97, 2.97, 2.19, 1.41, 1.15, 1.41, 1.54, 1.28, 1.67, 1.54, 1.41, 1.67, 1.54,
             1.80, 1.67, 1.93, 1.67, 2.06, 2.19, 1.93]

hypo_day = [59.5, 60.8, 62.2, 63.5, 64.9, 66.2, 67.5, 68.9, 70.2, 71.5, 72.9, 74.2, 75.5, 76.9, 78.2, 79.5, 80.9, 82.2,
            83.5, 84.9, 86.2, 87.5, 88.9, 90.2, 91.5, 92.9, 94.2, 95.5, 96.9, 98.2, 99.5, 100.9, 102.2, 103.5,
            104.9, 106.2, 107.6, 108.9, 110.2, 111.6, 112.9, 114.2, 115.6, 116.9, 119.6, 122.2, 124.9, 127.6,
            128.9, 130.2, 131.6, 132.9, 134.2, 135.6, 138.2, 140.9, 143.6, 144.9, 146.3, 147.6, 150.3, 152.9,
            155.6, 158.3, 160.9, 163.6, 166.3, 170.9, 174.9, 180.2, 186.9, 193.6, 200.3, 206.9, 212.3, 214.9,
            217.6, 222.9, 225.6, 229.6, 236.3, 240.3, 243.0, 244.3, 245.6, 247.0, 249.6, 252.3, 255.0, 260.3,
            263.0, 265.0, 267.0, 269.6, 272.3, 275.0, 277.7, 280.3, 283.0, 285.7, 288.3, 291.0, 293.7, 296.3,
            298.3, 300.3, 301.7, 304.3, 307.0, 309.7, 312.3, 313.7, 317.7, 321.7, 324.4, 327.0, 329.7, 332.4,
            335.0, 336.2]
hypo_val = [0.23, 0.49, 0.42, 0.63, 0.36, 0.63, 0.68, 0.76, 0.63, 0.76, 1.02, 0.76, 0.89, 1.02, 0.76, 0.89, 1.02, 0.76,
            0.89, 0.76, 0.63, 0.63, 0.49, 0.49, 0.42, 0.23, 0.31, 0.63, 0.76, 0.49, 0.36, 0.63, 0.36, 0.49,
            0.36, 0.49, 0.63, 0.36, 0.49, 0.42, 1.02, 0.49, 0.31, 0.23, 0.16, 0.10, 0.16, 0.23,
            0.36, 0.49, 1.15, 0.76, 0.36, 0.23, 0.23, 0.23, 0.36, 0.89, 0.63, 0.23, 0.16, 0.16,
            0.23, 0.16, 0.16, 0.10, 0.10, 0.36, 0.23, 0.16, 0.16, 0.23, 0.16, 0.16, 0.16, 0.23,
            0.10, 0.10, 0.23, 0.05, 0.16, 0.36, 1.02, 0.76, 1.02, 0.63, 0.16, 0.16, 0.16, 0.23,
            0.63, 1.02, 0.76, 0.89, 1.02, 0.76, 0.89, 1.28, 0.89, 1.02, 0.63, 0.89, 1.15, 1.54,
            1.67, 1.15, 0.63, 0.36, 0.49, 0.31, 0.23, 0.16, 0.16, 0.63, 0.89, 1.41, 1.15, 0.63,
            0.36, 0.16]

aqui_day = [2.8, 8.1, 9.1, 9.7, 10.4, 15.5, 16.8, 18.1, 23.5, 25.5, 27.5, 32.8, 34.8, 35.8, 36.8, 38.2, 39.5, 44.8,
            49.5, 50.4, 51.5, 52.6, 53.5, 55.5, 56.8, 58.2, 59.5, 60.8, 62.2, 64.9, 68.9, 70.2, 70.9, 75.5, 76.6,
            77.5, 90.2, 103.5, 116.9, 124.9, 126.2, 127.6, 130.2, 136.9, 143.6, 150.3, 156.9, 163.6, 166.9,
            170.9, 174.9, 180.2, 186.9, 193.6, 200.3, 206.9, 209.6, 210.9, 212.0, 212.9, 214.9, 216.9, 218.9,
            222.9, 228.3, 233.6, 239.0, 244.3, 249.6, 252.3, 253.6, 255.0, 260.3, 265.6, 267.0, 267.6, 268.3,
            273.7, 281.7, 287.0, 292.3, 300.3, 308.3, 310.3, 311.3, 312.3, 313.7, 320.3, 327.0, 336.2]
aqui_val = [0.10, 0.10, 0.49, 0.89, 0.16, 0.16, 0.23, 0.16, 0.16, 0.23, 0.10, 0.16, 0.36, 0.89, 0.36, 0.49, 0.16, 0.16,
            0.16, 0.63, 1.02, 0.49, 0.16, 0.23, 0.49, 0.57, 0.49, 0.31, 0.16, 0.16, 0.23, 0.49, 0.16, 0.16, 0.42,
            0.16, 0.10, 0.10, 0.16, 0.16, 0.49, 0.31, 0.21, 0.21, 0.21, 0.16, 0.16, 0.16, 0.16,
            0.31, 0.16, 0.23, 0.31, 0.23, 0.31, 0.36, 0.31, 0.63, 1.02, 0.23, 0.10, 0.36, 0.49,
            0.57, 0.63, 0.63, 0.57, 0.57, 0.57, 0.49, 0.16, 0.10, 0.10, 0.10, 0.16, 0.42, 0.10,
            0.10, 0.16, 0.16, 0.16, 0.16, 0.16, 0.36, 1.02, 0.36, 0.10, 0.10, 0.16, 0.10]

y_ticks = [0, 5, 10, 15, 20, 25, 30]
x_ticks = [0, 91, 182, 273]
month_labels = ["J", "A", "S", "O", "N", "D", "J", "F", "M", "A", "M", "J"]
season_labels = ["summer", "fall", "winter", "spring"]
legend1 = ["air", "soil", "water"]
legend2 = ["backwater", "shallow shoreline", "tributary"]
legend3 = ["parafluvial springbrook", "orthofluvial springbrook", "hyporheic", "aquifer"]

# ---------------- figure ----------------
fig = go.Figure()


def add(xs, ys, color, width, xa, ya, dash="solid"):
    fig.add_trace(go.Scatter(x=xs, y=ys, mode="lines", xaxis=xa, yaxis=ya,
                             line=dict(color=color, width=width, dash=dash),
                             connectgaps=False, showlegend=False, hoverinfo="skip"))


LIGHT = "#c4c4c4"
MID = "#858585"
PARA_BASE, PARA_DOT = "#cfcfcf", "#8a8a8a"
ORTHO_BASE, ORTHO_DOT = "#262626", "#6e6e6e"

# panel 1
add(air_day, air_val, LIGHT, 1.5, "x", "y")
add(soil_day, soil_val, "#000000", 1.3, "x", "y")
add(water_day, water_val, "#000000", 2.8, "x", "y")
# panel 2
add(back_day, back_val, LIGHT, 1.5, "x2", "y2")
add(shallow_day, shallow_val, MID, 1.5, "x2", "y2")
add(trib_day, trib_val, "#000000", 1.3, "x2", "y2")
# panel 3 (textured lines: base + dotted overlay)
add(para_day, para_val, PARA_BASE, 5, "x3", "y3")
add(para_day, para_val, PARA_DOT, 1.6, "x3", "y3", "dot")
add(ortho_day, ortho_val, ORTHO_BASE, 5, "x3", "y3")
add(ortho_day, ortho_val, ORTHO_DOT, 1.4, "x3", "y3", "dot")
add(hypo_day, hypo_val, "#bdbdbd", 3.2, "x3", "y3")
add(aqui_day, aqui_val, "#000000", 2.6, "x3", "y3")


def px(x):
    return x / W


def py(y):
    return 1 - y / H


xdom = [px(213), px(1053)]
ydoms = [[py(425.3), py(43.5)], [py(925), py(541)], [py(1448), py(1064)]]

axis_font = dict(family=FONT, size=32, color="#000000")
layout = dict(
    width=W, height=H, autosize=False,
    margin=dict(l=0, r=0, t=0, b=0, pad=0, autoexpand=False),
    paper_bgcolor="white", plot_bgcolor="white", showlegend=False,
    font=dict(family=FONT, color="#000000"),
)
for i in range(3):
    xs = "xaxis" if i == 0 else f"xaxis{i+1}"
    ys = "yaxis" if i == 0 else f"yaxis{i+1}"
    ya = "y" if i == 0 else f"y{i+1}"
    xa = "x" if i == 0 else f"x{i+1}"
    layout[xs] = dict(domain=xdom, anchor=ya, range=[0, 336.3], tickvals=x_ticks,
                      showticklabels=False, ticks="outside", ticklen=9, tickwidth=1,
                      tickcolor="#808080", showline=True, linecolor="#808080", linewidth=2,
                      showgrid=False, zeroline=False, fixedrange=True, automargin=False)
    layout[ys] = dict(domain=ydoms[i], anchor=xa, range=[0, 30], tickvals=y_ticks,
                      ticks="outside", ticklen=10, tickwidth=1, tickcolor="#404040",
                      showline=True, linecolor="#404040", linewidth=1.2, ticklabelstandoff=10,
                      showgrid=False, zeroline=False, tickfont=axis_font, fixedrange=True,
                      automargin=False)
fig.update_layout(**layout)

shapes = []
annotations = []


def legend_item(label, y, x0, x1, tx, styles):
    for (col, wid, dash) in styles:
        shapes.append(dict(type="line", xref="paper", yref="paper", x0=px(x0), x1=px(x1),
                           y0=py(y), y1=py(y), line=dict(color=col, width=wid, dash=dash)))
    annotations.append(dict(text=label, xref="paper", yref="paper", x=px(tx), y=py(y),
                            xanchor="left", yanchor="middle", showarrow=False,
                            font=dict(family=FONT, size=32, color="#000000")))


# legend panel 1
leg1_styles = [[(LIGHT, 1.5, "solid")], [("#000000", 1.3, "solid")], [("#000000", 2.8, "solid")]]
for lab, yy, st in zip(legend1, [23, 62, 100], leg1_styles):
    legend_item(lab, yy, 597, 637, 645, st)
# legend panel 2
leg2_styles = [[(LIGHT, 1.5, "solid")], [(MID, 1.5, "solid")], [("#000000", 1.3, "solid")]]
for lab, yy, st in zip(legend2, [520, 556, 593], leg2_styles):
    legend_item(lab, yy, 592, 633, 639, st)
# legend panel 3
leg3_styles = [[(PARA_BASE, 5, "solid"), (PARA_DOT, 1.6, "dot")],
               [(ORTHO_BASE, 5, "solid"), (ORTHO_DOT, 1.4, "dot")],
               [("#bdbdbd", 3.2, "solid")],
               [("#000000", 2.6, "solid")]]
for lab, yy, st in zip(legend3, [1045, 1078, 1111, 1144], leg3_styles):
    legend_item(lab, yy, 595, 658, 665, st)

# month & season labels under the bottom panel
month_x = [245, 318, 396, 474, 549, 615, 681, 755, 824, 892, 960, 1031]
for lab, xx in zip(month_labels, month_x):
    annotations.append(dict(text=lab, xref="paper", yref="paper", x=px(xx), y=py(1557),
                            xanchor="center", yanchor="middle", showarrow=False,
                            font=dict(family=FONT, size=32, color="#000000")))
season_x = [323, 541, 741, 945]
season_seg = [(235, 409), (457, 633), (666, 841), (871, 1045)]
for lab, xx, (a, b) in zip(season_labels, season_x, season_seg):
    annotations.append(dict(text=lab, xref="paper", yref="paper", x=px(xx), y=py(1595),
                            xanchor="center", yanchor="middle", showarrow=False,
                            font=dict(family=FONT, size=31, color="#000000")))
    shapes.append(dict(type="line", xref="paper", yref="paper", x0=px(a), x1=px(b),
                       y0=py(1575), y1=py(1575), line=dict(color="#000000", width=2.5)))

# y-axis title
annotations.append(dict(text="Temperature (<sup>o</sup>C)", xref="paper", yref="paper",
                        x=px(32), y=py(1326), xanchor="center", yanchor="middle",
                        textangle=-90, showarrow=False,
                        font=dict(family=FONT, size=40, color="#000000")))

fig.update_layout(shapes=shapes, annotations=annotations)
fig.write_html("out.html")
